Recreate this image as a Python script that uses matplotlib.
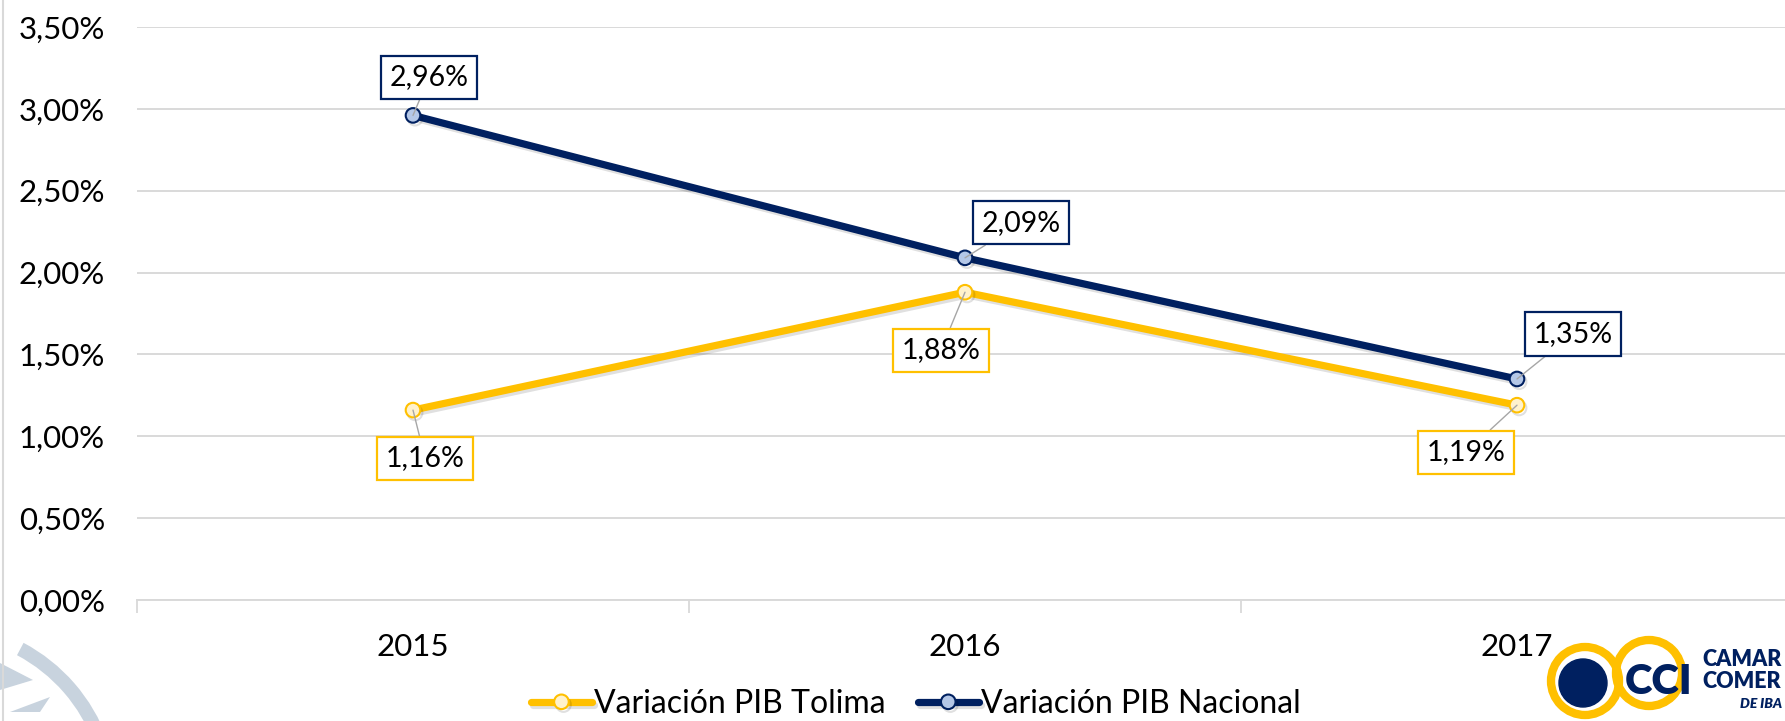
import matplotlib
matplotlib.use('Agg')
import matplotlib.pyplot as plt
import matplotlib.patheffects as pe
from matplotlib.patches import Circle, Wedge, Polygon

# --- DATA ---
years = ['2015', '2016', '2017']
pib_tolima = [1.16, 1.88, 1.19]
pib_nacional = [2.96, 2.09, 1.35]
y_ticks = [0.0, 0.5, 1.0, 1.5, 2.0, 2.5, 3.0, 3.5]
y_tick_labels = ['0,00%', '0,50%', '1,00%', '1,50%', '2,00%', '2,50%', '3,00%', '3,50%']
series_names = ['Variación PIB Tolima', 'Variación PIB Nacional']

# label box offsets (pixels) from each point
off_tolima = [(12, -48), (-24, -58), (-51, -47)]
off_nacional = [(16, 38), (56, 35), (56, 45)]

NAVY = '#002060'
YELLOW = '#FFC000'
GRID = '#D9D9D9'

plt.rcParams['font.family'] = ['Lato', 'DejaVu Sans']

W, H = 1785, 721
fig = plt.figure(figsize=(W / 100, H / 100), dpi=100)
ax = fig.add_axes([137 / W, (H - 600) / H, 3 * 552 / W, 573 / H])

x = range(len(years))
shadow = [pe.SimpleLineShadow(offset=(1.5, -2), shadow_color='k', alpha=0.12), pe.Normal()]

l_tol, = ax.plot(x, pib_tolima, color=YELLOW, lw=5.2, marker='o', ms=10.5,
                 mfc='#FFF2CC', mec=YELLOW, mew=1.5, path_effects=shadow,
                 solid_capstyle='round', label=series_names[0])
l_nac, = ax.plot(x, pib_nacional, color=NAVY, lw=5.2, marker='o', ms=10.5,
                 mfc='#B4C7E7', mec=NAVY, mew=1.5, path_effects=shadow,
                 solid_capstyle='round', label=series_names[1])


def fmt(v):
    return f"{v:.2f}".replace('.', ',') + '%'


for vals, offs, col in [(pib_tolima, off_tolima, YELLOW), (pib_nacional, off_nacional, NAVY)]:
    for i, v in enumerate(vals):
        ax.annotate(fmt(v), xy=(i, v), xytext=offs[i], textcoords='offset pixels',
                    ha='center', va='center', fontsize=20.5, color='black',
                    bbox=dict(boxstyle='square,pad=0.3', fc='white', ec=col, lw=1.6),
                    arrowprops=dict(arrowstyle='-', color='#A6A6A6', lw=1,
                                    shrinkA=0, shrinkB=0),
                    zorder=5)

ax.set_xlim(-0.5, 2.5)
ax.set_ylim(0, 3.5)
ax.set_yticks(y_ticks)
ax.set_yticklabels(y_tick_labels)
ax.set_xticks(list(x))
ax.set_xticklabels(years)
ax.set_xticks([-0.5, 0.5, 1.5, 2.5], minor=True)
ax.tick_params(axis='y', length=0, labelsize=22.5, pad=23)
ax.tick_params(axis='x', which='major', length=0, labelsize=22.5, pad=24)
ax.tick_params(axis='x', which='minor', length=9, width=1.3, color=GRID)
ax.grid(axis='y', color=GRID, lw=1.4)
ax.set_axisbelow(True)
for s in ['top', 'right', 'left']:
    ax.spines[s].set_visible(False)
ax.spines['bottom'].set_color(GRID)
ax.spines['bottom'].set_linewidth(1.4)

fig.legend(handles=[l_tol, l_nac], loc='center', bbox_to_anchor=(916 / W, 17 / H),
           ncol=2, frameon=False, fontsize=23, handlelength=1.9, handletextpad=0.08,
           columnspacing=1.0, numpoints=1, borderpad=0)

# --- decorations: border, watermark, logo (pixel coords) ---
deco = fig.add_axes([0, 0, 1, 1], zorder=3)
deco.set_xlim(0, W)
deco.set_ylim(0, H)
deco.axis('off')
deco.plot([3, 3], [0, H], color=GRID, lw=1.5)

WM = '#C8D3DE'
deco.add_patch(Wedge((-60, -79), 178, 20, 62, width=14, color=WM, lw=0))
deco.add_patch(Polygon([(0, H - 663), (33, H - 680), (0, H - 690)], closed=True, color=WM, lw=0))
deco.add_patch(Polygon([(10, H - 712), (50, H - 697), (40, H - 712)], closed=True, color=WM, lw=0))

deco.add_patch(Circle((1585, H - 681), 34, fill=False, ec=YELLOW, lw=6))
deco.add_patch(Circle((1649, H - 673), 33, fill=False, ec=YELLOW, lw=6))
deco.add_patch(Circle((1583, H - 683), 24, color=NAVY))
deco.text(1659, H - 682, 'CCI', fontsize=30, fontweight='heavy', color=NAVY,
          ha='center', va='center')
deco.text(1702, H - 660, 'CAMAR', fontsize=15.5, fontweight='heavy', color=NAVY,
          ha='left', va='center')
deco.text(1702, H - 682, 'COMER', fontsize=15.5, fontweight='heavy', color=NAVY,
          ha='left', va='center')
deco.text(1740, H - 704, 'DE IBA', fontsize=10, fontweight='heavy', style='italic',
          color=NAVY, ha='left', va='center')

fig.savefig('out.png', dpi=100)
